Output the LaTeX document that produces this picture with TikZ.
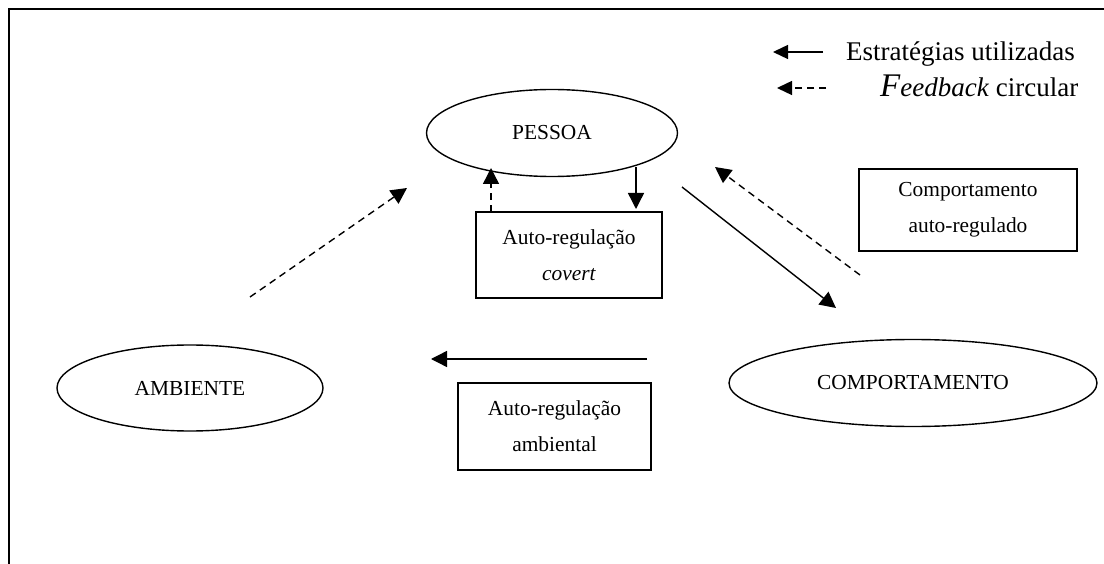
\documentclass[tikz,border=0pt]{standalone}
\usepackage{fontspec}
\setmainfont{Liberation Serif}
\usetikzlibrary{shapes.geometric,arrows.meta}
\newcommand\diagfont{\fontsize{21.4}{36}\selectfont}
\newcommand\legfont{\fontsize{27}{30}\selectfont}
\begin{document}
\begin{tikzpicture}[x=1pt,y=-1pt,
  ell/.style={draw,ellipse,line width=1.4pt,inner sep=0pt,font=\diagfont},
  rbox/.style={draw,rectangle,line width=1.4pt,inner sep=0pt,align=center,font=\diagfont},
  strat/.style={line width=1.4pt,-{Triangle[length=16pt,width=16pt]}},
  feed/.style={strat,dash pattern=on 7pt off 5pt},
  legtext/.style={anchor=base west,inner sep=0pt,font=\legfont}]
  \useasboundingbox (0,0) rectangle (1104,564);
  % open frame
  \draw[line width=2pt] (9,564) -- (9,9) -- (1104,9);

  % legend
  \coordinate (ls1) at (823,52);
  \coordinate (le1) at (773,52);
  \draw[strat,-{Triangle[length=15pt,width=14pt]}] (ls1) -- (le1);
  \node[legtext] (strattext) at (846,61) {Estratégias utilizadas};
  \coordinate (ls2) at (826,88);
  \coordinate (le2) at (777,88);
  \draw[feed,-{Triangle[length=15pt,width=14pt]}] (ls2) -- (le2);
  \node[legtext] (feedtext) at (880,97)
    {{\fontsize{33}{33}\selectfont\itshape F}\textit{eedback} circular};

  % main nodes
  \node[ell,minimum width=251pt,minimum height=87pt] (pessoa) at (552,133) {PESSOA};
  \node[ell,minimum width=266pt,minimum height=86pt] (ambiente) at (190,388) {AMBIENTE};
  \node[ell,minimum width=368pt,minimum height=87pt] (comport) at (913,383) {COMPORTAMENTO};
  \node[rbox,minimum width=186pt,minimum height=86pt] (covert) at (569,255)
    {Auto-regulação\\\textit{covert}};
  \node[rbox,minimum width=218pt,minimum height=82pt] (autoreg) at (968,210)
    {Comportamento\\auto-regulado};
  \node[rbox,minimum width=193pt,minimum height=87pt] (ambiental) at (554.5,426.5)
    {Auto-regulação\\ambiental};

  % connectors
  \coordinate (envout) at (250,297);
  \coordinate (pesin1) at (407,188);
  \draw[feed] (envout) -- (pesin1);

  \coordinate (pesout1) at (636,167);
  \coordinate (covin) at (636,209);
  \draw[strat] (pesout1) -- (covin);

  \coordinate (covout) at (491,212);
  \coordinate (pesin2) at (491,168);
  \draw[feed] (covout) -- (pesin2);

  \coordinate (pesout2) at (682,187);
  \coordinate (comin) at (836,308);
  \draw[strat] (pesout2) -- (comin);

  \coordinate (comout1) at (860,275);
  \coordinate (pesin3) at (715,167);
  \draw[feed] (comout1) -- (pesin3);

  \coordinate (comout2) at (647,359);
  \coordinate (envin) at (431,359);
  \draw[strat] (comout2) -- (envin);
\end{tikzpicture}
\end{document}
